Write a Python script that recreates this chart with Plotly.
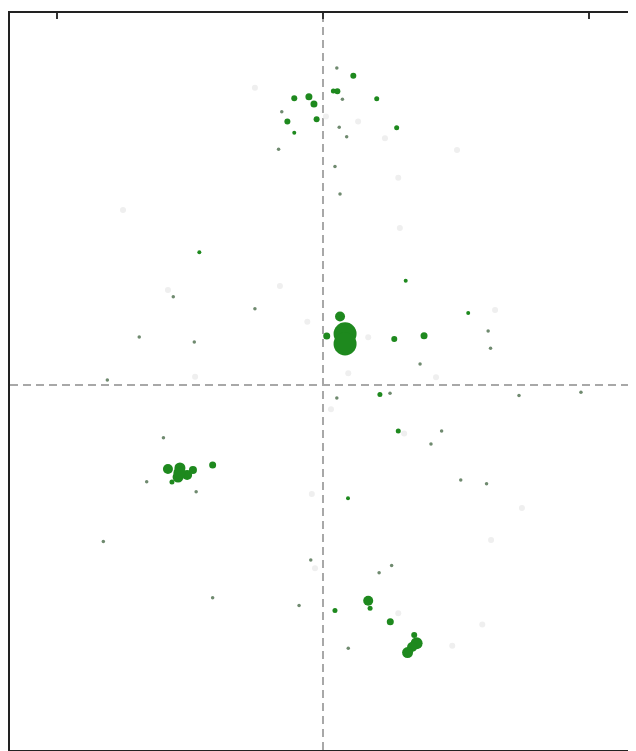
import plotly.graph_objects as go

# --- data (axis units; ticks at -10, 0, 10) ---
green_x = [1.14, 0.54, 0.39, -1.08, -0.53, -0.34, 2.02, -1.34, -0.24, 2.77, -1.08,
           -4.65, 3.11, 0.64, 0.83, 0.83, 0.14, 2.68, 3.80, 5.46, 2.14, 2.83,
           -5.83, -5.38, -5.45, -5.11, -4.89, -5.68, -5.40, -4.15, 0.94,
           1.70, 1.77, 0.45, 2.53, 3.43, 3.52, 3.35, 3.18]
green_y = [11.62, 11.04, 11.05, 10.78, 10.83, 10.56, 10.76, 9.90, 9.99, 9.67, 9.48,
           4.99, 3.92, 2.57, 1.92, 1.54, 1.84, 1.73, 1.85, 2.70, -0.36, -1.73,
           -3.16, -3.12, -3.46, -3.38, -3.20, -3.65, -3.30, -3.01, -4.26,
           -8.11, -8.39, -8.48, -8.90, -9.40, -9.71, -9.85, -10.06]
green_size = [6, 6, 5, 6, 7, 7, 5, 6, 6, 5, 4,
              4, 4, 10, 23, 23, 7, 6, 7, 4, 5, 5,
              10, 11, 11, 10, 8, 5, 12, 7, 4,
              10, 5, 5, 7, 6, 12, 10, 11]

dot_x = [-1.55, -8.26, -4.15, 3.65, 0.52, 0.61, 0.89, -1.67, 0.45, 0.64, -5.63, -2.56,
         -6.91, -4.84, -8.11, 6.21, 6.30, 0.52, 2.52, 4.46, 4.06, 7.37, 9.70,
         5.18, 6.15, -6.00, -6.63, -4.77, -0.46, 2.58, 2.11, -0.90, 0.95, 0.73]
dot_y = [10.27, -5.88, -8.00, 0.79, 11.91, 9.69, 9.33, 8.86, 8.21, 7.18, 3.32, 2.86,
         1.80, 1.61, 0.19, 2.03, 1.38, -0.49, -0.31, -1.73, -2.22, -0.40, -0.27,
         -3.57, -3.71, -1.98, -3.64, -4.01, -6.58, -6.79, -7.06, -8.29, -9.90, 10.74]

faint_x = [0.11, 1.32, 2.33, 2.83, 1.70, 6.47, -0.59, 0.95, 4.25, 0.30, 3.05, -1.62,
           -4.81, -0.42, -0.30, 2.83, 5.99, 4.86, -7.52, -5.83, 5.04, 2.89, 6.32,
           7.48, -2.56]
faint_y = [10.09, 9.90, 9.27, 7.79, 1.79, 2.82, 2.38, 0.44, 0.29, -0.91, -1.82, 3.72,
           0.31, -4.10, -6.89, -8.58, -9.00, -9.80, 6.58, 3.57, 8.83, 5.90, -5.83,
           -4.62, 11.17]

x_ticks = [-10, 0, 10]
x_range = [-11.77, 11.77]
y_range = [-13.72, 13.98]

fig = go.Figure()
fig.add_trace(go.Scatter(x=faint_x, y=faint_y, mode="markers",
                         marker=dict(size=6, color="#efefef", opacity=1, line=dict(width=0)),
                         showlegend=False, hoverinfo="skip"))
fig.add_trace(go.Scatter(x=dot_x, y=dot_y, mode="markers",
                         marker=dict(size=3.5, color="#6f8a6f", opacity=1, line=dict(width=0)),
                         showlegend=False))
fig.add_trace(go.Scatter(x=green_x, y=green_y, mode="markers",
                         marker=dict(size=green_size, color="#1e891e", opacity=1,
                                     line=dict(width=0)),
                         showlegend=False))

fig.add_vline(x=0, line=dict(color="#a8a8a8", width=2, dash="8px,5px"), layer="below")
fig.add_hline(y=0, line=dict(color="#a8a8a8", width=2, dash="8px,5px"), layer="below")

# the page body adds an 8px margin, so the figure is sized to end at the window edge
fig.update_layout(
    width=628, height=743,
    margin=dict(l=2, r=0, t=5, b=1),
    paper_bgcolor="white", plot_bgcolor="white",
    xaxis=dict(range=x_range, side="top", showline=True, linecolor="#222222",
               linewidth=1.5, mirror=True, ticks="inside", tickvals=x_ticks,
               ticklen=6, tickwidth=1.5, tickcolor="#333333", showticklabels=False,
               showgrid=False, zeroline=False),
    yaxis=dict(range=y_range, showline=True, linecolor="#222222", linewidth=1.5,
               mirror=False, ticks="", showticklabels=False, showgrid=False,
               zeroline=False),
)

fig.write_html("out.html")
